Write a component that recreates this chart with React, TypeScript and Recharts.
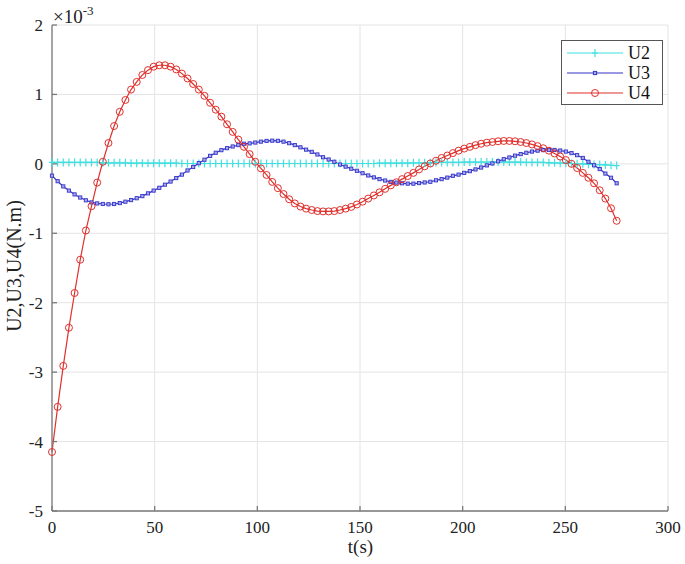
import React from 'react';
import { LineChart, Line, XAxis, YAxis, CartesianGrid } from 'recharts';

const T_STEP = 2.75;
const tValues: number[] = Array.from({ length: 101 }, (_, i) => +(i * T_STEP).toFixed(2));

const u2: number[] = [
  0.02, 0.02, 0.02, 0.02, 0.02, 0.02, 0.02, 0.02, 0.02, 0.015,
  0.015, 0.015, 0.015, 0.015, 0.01, 0.01, 0.01, 0.01, 0.01, 0.01,
  0.01, 0.01, 0.01, 0.005, 0.005, 0.005, 0.005, 0.005, 0.005, 0.005,
  0.005, 0.005, 0.005, 0.005, 0.005, 0.005, 0.005, 0.005, 0.005, 0.005,
  0.005, 0.005, 0.005, 0.005, 0.005, 0.005, 0.005, 0.005, 0.005, 0.005,
  0.005, 0.005, 0.005, 0.005, 0.005, 0.005, 0.005, 0.005, 0.01, 0.01,
  0.01, 0.01, 0.01, 0.01, 0.015, 0.015, 0.015, 0.015, 0.02, 0.02,
  0.02, 0.02, 0.02, 0.025, 0.025, 0.025, 0.025, 0.025, 0.025, 0.025,
  0.025, 0.025, 0.025, 0.025, 0.02, 0.02, 0.02, 0.02, 0.015, 0.015,
  0.01, 0.01, 0.005, 0.0, 0.0, -0.005, -0.01, -0.01, -0.015, -0.02,
  -0.025,
];

const u3: number[] = [
  -0.17, -0.25, -0.325, -0.385, -0.44, -0.485, -0.525, -0.555, -0.57, -0.578,
  -0.582, -0.578, -0.565, -0.545, -0.522, -0.495, -0.465, -0.425, -0.385, -0.345,
  -0.3, -0.255, -0.205, -0.155, -0.095, -0.045, 0.01, 0.06, 0.115, 0.16,
  0.197, 0.226, 0.25, 0.27, 0.29, 0.295, 0.307, 0.32, 0.33, 0.334,
  0.332, 0.32, 0.298, 0.27, 0.238, 0.205, 0.173, 0.135, 0.095, 0.063,
  0.03, -0.01, -0.04, -0.07, -0.1, -0.135, -0.167, -0.195, -0.22, -0.24,
  -0.26, -0.27, -0.28, -0.285, -0.285, -0.277, -0.268, -0.258, -0.237, -0.22,
  -0.198, -0.172, -0.155, -0.13, -0.105, -0.08, -0.053, -0.022, 0.006, 0.037,
  0.067, 0.092, 0.118, 0.14, 0.16, 0.177, 0.19, 0.198, 0.2, 0.2,
  0.192, 0.177, 0.155, 0.125, 0.085, 0.03, -0.02, -0.075, -0.14, -0.2,
  -0.28,
];

const u4: number[] = [
  -4.15, -3.5, -2.91, -2.36, -1.86, -1.38, -0.96, -0.61, -0.27, 0.03,
  0.3, 0.545, 0.75, 0.92, 1.07, 1.18, 1.28, 1.35, 1.4, 1.42,
  1.42, 1.4, 1.36, 1.3, 1.23, 1.15, 1.07, 0.98, 0.88, 0.78,
  0.68, 0.57, 0.46, 0.35, 0.245, 0.14, 0.03, -0.065, -0.16, -0.26,
  -0.35, -0.435, -0.51, -0.57, -0.615, -0.645, -0.665, -0.68, -0.685, -0.685,
  -0.68, -0.665, -0.645, -0.62, -0.585, -0.545, -0.5, -0.455, -0.41, -0.36,
  -0.31, -0.265, -0.22, -0.175, -0.13, -0.08, -0.035, 0.005, 0.045, 0.085,
  0.12, 0.155, 0.19, 0.22, 0.245, 0.27, 0.29, 0.305, 0.315, 0.325,
  0.33, 0.33, 0.325, 0.315, 0.3, 0.28, 0.255, 0.225, 0.19, 0.15,
  0.105, 0.055, 0.0, -0.06, -0.13, -0.2, -0.28, -0.38, -0.5, -0.64,
  -0.82,
];

const xTicks: number[] = [0, 50, 100, 150, 200, 250, 300];
const yTicks: number[] = [-5, -4, -3, -2, -1, 0, 1, 2];

const data = tValues.map((t, i) => ({ t, U2: u2[i], U3: u3[i], U4: u4[i] }));

const C2 = '#3fe0e0';
const C3 = '#3535c8';
const C4 = '#e0302c';
const FONT = '"Liberation Serif", "Times New Roman", Times, serif';
const AXIS = '#7a7a7a';

const PlusDot = (p: any) => {
  const { cx, cy, index } = p;
  if (cx == null || cy == null) return <g key={`p${index}`} />;
  return (
    <path key={`p${index}`} d={`M${cx},${cy - 4}V${cy + 4}M${cx - 3},${cy}H${cx + 3}`} stroke={C2} strokeWidth={1.2} fill="none" />
  );
};
const SquareDot = (p: any) => {
  const { cx, cy, index } = p;
  if (cx == null || cy == null) return <g key={`s${index}`} />;
  return <rect key={`s${index}`} x={cx - 1.6} y={cy - 1.6} width={3.2} height={3.2} stroke={C3} strokeWidth={0.9} fill="#a8a8f0" />;
};
const CircleDot = (p: any) => {
  const { cx, cy, index } = p;
  if (cx == null || cy == null) return <g key={`c${index}`} />;
  return <circle key={`c${index}`} cx={cx} cy={cy} r={3.5} stroke={C4} strokeWidth={1} fill="none" />;
};

const tickStyle = { fill: '#222', fontSize: 17, fontFamily: FONT };

const LegendRow = ({ color, label, kind }: { color: string; label: string; kind: string }) => (
  <div style={{ display: 'flex', alignItems: 'center', height: 20 }}>
    <svg width={62} height={20} style={{ display: 'block' }}>
      <line x1={5} y1={10} x2={61} y2={10} stroke={color} strokeWidth={1.2} />
      {kind === 'plus' && <path d="M33,6V14M30,10H36" stroke={color} strokeWidth={1.2} />}
      {kind === 'square' && <rect x={31.4} y={8.4} width={3.2} height={3.2} stroke={color} fill="#a8a8f0" />}
      {kind === 'circle' && <circle cx={33} cy={10} r={3.5} stroke={color} fill="none" />}
    </svg>
    <span style={{ fontFamily: FONT, fontSize: 18, color: '#111', marginLeft: 4, lineHeight: '20px' }}>{label}</span>
  </div>
);

export default function App() {
  return (
    <div style={{ position: 'absolute', left: 0, top: 0, width: 685, height: 564, background: '#fff' }}>
      <LineChart width={685} height={564} data={data} margin={{ top: 25, right: 17, left: 0, bottom: 0 }}>
        <CartesianGrid stroke="#e4e4e4" strokeWidth={1} />
        <XAxis
          dataKey="t"
          type="number"
          domain={[0, 300]}
          ticks={xTicks}
          height={53}
          tick={tickStyle}
          tickSize={-5}
          tickMargin={15}
          stroke={AXIS}
          strokeWidth={1.3}
          interval={0}
        />
        <XAxis xAxisId="top" orientation="top" type="number" domain={[0, 300]} ticks={xTicks} height={0} tick={false} tickSize={-5} stroke={AXIS} strokeWidth={1.3} />
        <YAxis
          type="number"
          domain={[-5, 2]}
          ticks={yTicks}
          width={52}
          tick={tickStyle}
          tickSize={-5}
          tickMargin={14}
          stroke={AXIS}
          strokeWidth={1.3}
          interval={0}
        />
        <YAxis yAxisId="right" orientation="right" type="number" domain={[-5, 2]} ticks={yTicks} width={0} tick={false} tickSize={-5} stroke={AXIS} strokeWidth={1.3} />
        <Line dataKey="U2" stroke={C2} strokeWidth={1.2} dot={PlusDot} isAnimationActive={false} />
        <Line dataKey="U3" stroke={C3} strokeWidth={1.2} dot={SquareDot} isAnimationActive={false} />
        <Line dataKey="U4" stroke={C4} strokeWidth={1.2} dot={CircleDot} isAnimationActive={false} />
      </LineChart>
      <div style={{ position: 'absolute', left: 53, top: 1, fontFamily: FONT, fontSize: 19, color: '#222', whiteSpace: 'nowrap', lineHeight: '22px' }}>
        ×10<sup style={{ fontSize: 13, position: 'relative', top: -1 }}>-3</sup>
      </div>
      <div
        style={{
          position: 'absolute',
          left: 14,
          top: 266,
          transform: 'translate(-50%, -50%) rotate(-90deg)',
          fontFamily: FONT,
          fontSize: 20,
          color: '#222',
          whiteSpace: 'nowrap',
        }}
      >
        U2,U3,U4(N.m)
      </div>
      <div style={{ position: 'absolute', left: 0, width: 721, top: 536, textAlign: 'center', fontFamily: FONT, fontSize: 19, color: '#222' }}>
        t(s)
      </div>
      <div
        style={{
          position: 'absolute',
          left: 561,
          top: 40,
          width: 102,
          height: 65,
          border: '1px solid #555',
          background: '#fff',
          paddingTop: 2,
          boxSizing: 'border-box',
        }}
      >
        <LegendRow color={C2} label="U2" kind="plus" />
        <LegendRow color={C3} label="U3" kind="square" />
        <LegendRow color={C4} label="U4" kind="circle" />
      </div>
    </div>
  );
}
